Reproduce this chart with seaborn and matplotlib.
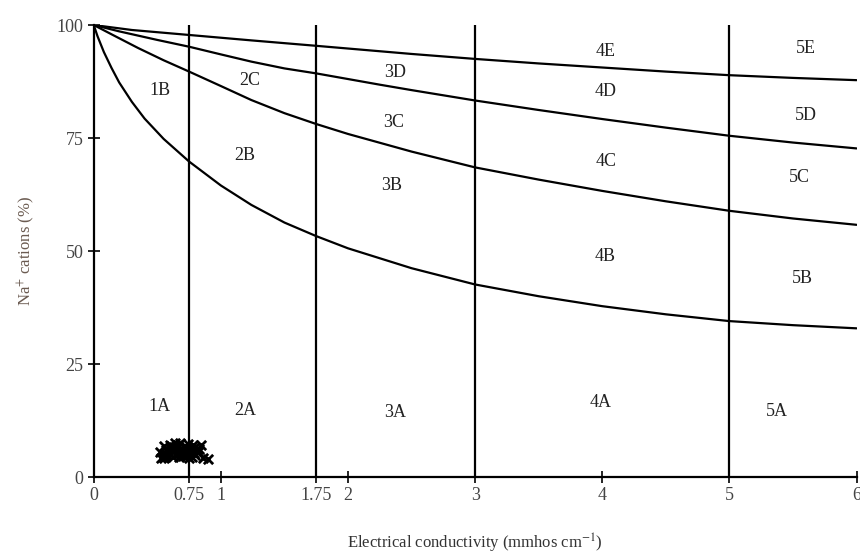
import seaborn as sns
import matplotlib.pyplot as plt
import pandas as pd

# boundary curves (EC, Na+ %)
ec_ab = [0, 0.03, 0.08, 0.14, 0.2, 0.3, 0.4, 0.55, 0.75, 1.0, 1.24, 1.5, 1.75, 2.0, 2.5, 3, 3.5, 4, 4.5, 5, 5.5, 6]
na_ab = [100, 97.5, 94, 90.5, 87.3, 83, 79.3, 74.8, 69.8, 64.5, 60.2, 56.3, 53.3, 50.6, 46.2, 42.6, 40.0, 37.8, 36.0, 34.5, 33.6, 32.9]

ec_bc = [0, 0.15, 0.35, 0.55, 0.75, 1.0, 1.24, 1.5, 1.75, 2.0, 2.5, 3, 3.5, 4, 4.5, 5, 5.5, 6]
na_bc = [100, 97.8, 94.9, 92.2, 89.7, 86.5, 83.4, 80.5, 78.1, 75.9, 72.0, 68.5, 65.8, 63.3, 61.0, 58.9, 57.2, 55.8]

ec_cd = [0, 0.2, 0.5, 0.75, 1.0, 1.24, 1.5, 1.75, 2.25, 2.5, 3, 3.5, 4, 4.5, 5, 5.5, 6]
na_cd = [100, 98.6, 96.7, 95.2, 93.5, 91.9, 90.4, 89.3, 86.8, 85.6, 83.3, 81.2, 79.2, 77.3, 75.5, 74.0, 72.7]

ec_de = [0, 0.3, 0.75, 1.24, 1.75, 2.5, 3, 3.5, 4, 4.5, 5, 5.5, 6]
na_de = [100, 98.9, 97.8, 96.6, 95.4, 93.6, 92.5, 91.5, 90.6, 89.7, 88.9, 88.3, 87.8]

# class borders on the EC axis
ec_borders = [0.75, 1.75, 3, 5]

# water samples
sample_ec = [0.52, 0.55, 0.58, 0.6, 0.62, 0.65, 0.68, 0.7, 0.72, 0.75, 0.78, 0.8, 0.83, 0.55, 0.6,
             0.64, 0.67, 0.71, 0.74, 0.77, 0.81, 0.86, 0.9, 0.58, 0.63, 0.69, 0.73, 0.76, 0.79, 0.84,
             0.53, 0.57, 0.61, 0.66, 0.7, 0.73, 0.78, 0.82, 0.56, 0.62, 0.68, 0.75, 0.8, 0.66, 0.71]
sample_na = [5.5, 6.8, 4.9, 7.2, 5.6, 6.3, 7.5, 4.6, 6.9, 5.8, 7.1, 4.8, 6.2, 4.3, 5.2,
             7.6, 4.4, 5.5, 7.3, 4.5, 5.9, 4.2, 4.0, 6.0, 6.6, 5.1, 4.7, 6.5, 5.3, 7.0,
             4.2, 5.9, 6.2, 5.0, 6.0, 5.2, 6.1, 5.5, 4.6, 4.4, 6.1, 4.3, 6.6, 7.0, 4.9]

# zone labels
zone_names = ["1A", "2A", "3A", "4A", "5A",
              "1B", "2B", "3B", "4B", "5B",
              "2C", "3C", "4C", "5C",
              "3D", "4D", "5D",
              "4E", "5E"]
zone_ec = [0.52, 1.19, 2.37, 3.99, 5.37,
           0.52, 1.19, 2.34, 4.02, 5.57,
           1.23, 2.36, 4.03, 5.55,
           2.37, 4.03, 5.6,
           4.03, 5.6]
zone_na = [15.5, 14.8, 14.2, 16.4, 14.4,
           85.6, 71.2, 64.6, 48.7, 44.0,
           87.8, 78.5, 69.7, 66.2,
           89.4, 85.2, 79.9,
           94.2, 94.9]

x_ticks = [0, 0.75, 1, 1.75, 2, 3, 4, 5, 6]
x_ticklabels = ["0", "0.75", "1", "1.75", "2", "3", "4", "5", "6"]
y_ticks = [0, 25, 50, 75, 100]

sns.set_style("ticks")
plt.rcParams['font.family'] = ['Liberation Serif', 'DejaVu Serif']
plt.rcParams['mathtext.fontset'] = 'stix'

fig = plt.figure(figsize=(8.6, 5.56), dpi=100)
ax = fig.add_axes([0.109, 0.142, 0.887, 0.813])

for xs, ys in [(ec_ab, na_ab), (ec_bc, na_bc), (ec_cd, na_cd), (ec_de, na_de)]:
    df = pd.DataFrame({"ec": xs, "na": ys})
    sns.lineplot(data=df, x="ec", y="na", color="black", linewidth=1.6, ax=ax)

for b in ec_borders:
    ax.plot([b, b], [0, 100], color="black", linewidth=1.6)

pts = pd.DataFrame({"ec": sample_ec, "na": sample_na})
sns.scatterplot(data=pts, x="ec", y="na", marker="x", color="black", s=45,
                linewidth=2.0, ax=ax, zorder=3)

for name, xv, yv in zip(zone_names, zone_ec, zone_na):
    ax.text(xv, yv, name, ha="center", va="center", fontsize=13, color="#222222")

ax.set_xlim(0, 6)
ax.set_ylim(0, 100)
ax.set_xticks(x_ticks)
ax.set_xticklabels(x_ticklabels)
ax.set_yticks(y_ticks)
ax.tick_params(axis="both", direction="inout", length=8, width=1.2,
               labelsize=13, labelcolor="#444444", color="black")
sns.despine(ax=ax)
for s in ["left", "bottom"]:
    ax.spines[s].set_linewidth(1.6)
    ax.spines[s].set_color("black")

ax.set_xlabel(r"Electrical conductivity (mmhos cm$^{-1}$)", fontsize=12, color="#333333", labelpad=20)
ax.set_ylabel(r"Na$^{+}$ cations (%)", fontsize=12, color="#6a5a50", labelpad=14)

fig.savefig("out.png", dpi=100)
